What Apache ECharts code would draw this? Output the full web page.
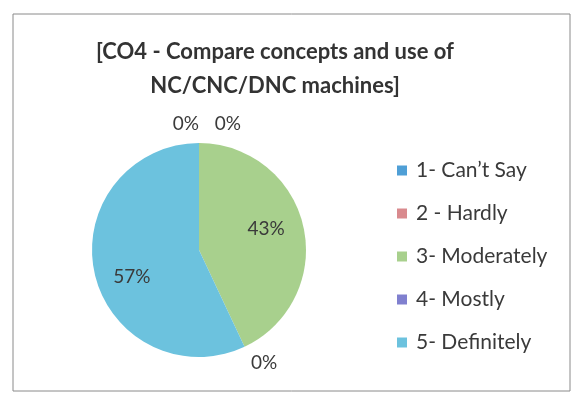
<!DOCTYPE html>
<html>
<head>
<meta charset="utf-8">
<script src="https://cdn.jsdelivr.net/npm/echarts@6/dist/echarts.min.js"></script>
<style>
html,body{margin:0;padding:0;background:#fff;}
#main{width:577px;height:405px;}
</style>
</head>
<body>
<div id="main"></div>
<script>
const titleText = '[CO4 - Compare concepts and use of\nNC/CNC/DNC machines]';
const categories = ['1- Can\u2019t Say', '2 - Hardly', '3- Moderately', '4- Mostly', '5- Definitely'];
const values = [0, 0, 43, 0, 57];
const colors = ['#4f9fd6', '#d98a8e', '#a8d08d', '#8080cf', '#6cc2de'];
// label style tweaks per slice (offsets only)
const labelOffsets = [[5, -11], [47, -11], [12, -9], [-2, 9], [-12, 15]];
const labelPositions = ['outside', 'outside', 'inside', 'outside', 'inside'];

const chart = echarts.init(document.getElementById('main'), null, {renderer: 'canvas'});
const fontFam = 'Lato, "Open Sans", sans-serif';
chart.setOption({
  backgroundColor: '#ffffff',
  animation: false,
  title: {
    text: titleText,
    left: 270, top: 30, textAlign: 'center',
    textStyle: {fontFamily: fontFam, fontWeight: 'bold', fontSize: 22, color: '#333', lineHeight: 34}
  },
  legend: {
    orient: 'vertical',
    left: 392, top: 155,
    itemWidth: 10, itemHeight: 10, itemGap: 22,
    icon: 'rect',
    textStyle: {fontFamily: fontFam, fontSize: 21, color: '#3a3a3a', padding: [0, 0, 0, 4]},
    data: categories
  },
  graphic: [{
    type: 'rect', shape: {x: 13, y: 14, width: 557, height: 377},
    style: {fill: 'none', stroke: '#8a8a8a', lineWidth: 1}, silent: true
  }],
  series: [{
    type: 'pie',
    center: [199, 250],
    radius: 107,
    startAngle: 90,
    clockwise: true,
    avoidLabelOverlap: false,
    itemStyle: {borderWidth: 0},
    labelLine: {show: false, length: 8, length2: 0},
    label: {fontFamily: fontFam, fontSize: 19, color: '#3a3a3a'},
    data: categories.map((c, i) => ({
      name: c, value: values[i],
      itemStyle: {color: colors[i]},
      label: {
        position: labelPositions[i],
        offset: labelOffsets[i],
        formatter: p => Math.round(p.value) + '%'
      }
    }))
  }]
});
</script>
</body>
</html>
